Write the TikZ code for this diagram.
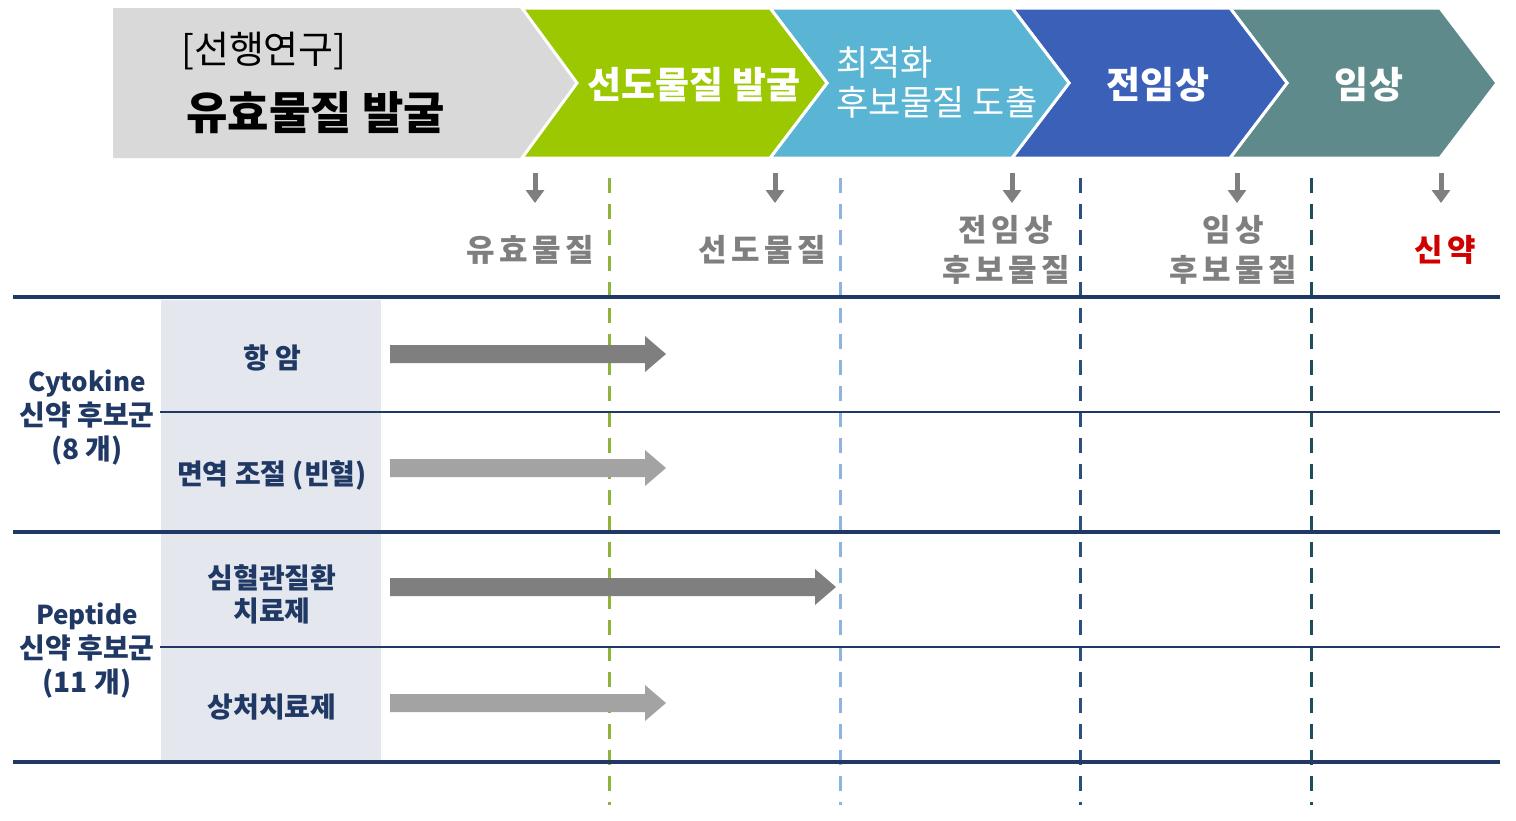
\documentclass[tikz,border=0pt]{standalone}
\usepackage{fontspec}
\usetikzlibrary{arrows.meta}
\newfontfamily\ko{Noto Sans CJK KR}
\newfontfamily\kosp[LetterSpace=14]{Noto Sans CJK KR}
\definecolor{bannergray}{HTML}{D9D9D9}
\definecolor{cgreen}{HTML}{9BC800}
\definecolor{clblue}{HTML}{5AB4D3}
\definecolor{cdblue}{HTML}{3A60B8}
\definecolor{cteal}{HTML}{5F8A8B}
\definecolor{navy}{HTML}{1F3864}
\definecolor{panel}{HTML}{E4E8EE}
\definecolor{labgray}{HTML}{7F7F7F}
\definecolor{darrow}{HTML}{7F7F7F}
\definecolor{larrow}{HTML}{A3A3A3}
\definecolor{dgreen}{HTML}{8DB33A}
\definecolor{dlblue}{HTML}{8DB3E2}
\definecolor{ddblue}{HTML}{2A5082}
\definecolor{dteal}{HTML}{1F4E5B}
\definecolor{newred}{HTML}{D00000}
\tikzset{
  chev/.style={draw=white,line width=3pt,line join=miter},
  bannertext/.style={text=white,font=\ko\bfseries\fontsize{37}{44}\selectfont,inner sep=0pt},
  stagelab/.style={text=labgray,font=\kosp\bfseries\fontsize{31}{40}\selectfont,align=center,inner sep=0pt},
  downarr/.style={draw=labgray,line width=5pt,-{Triangle[width=18pt,length=13pt]}},
  vdash/.style={line width=3pt,dash pattern=on 15pt off 11pt},
  thickrule/.style={draw=navy,line width=4.5pt},
  thinrule/.style={draw=navy,line width=1.8pt},
  grouplab/.style={text=navy,font=\ko\bfseries\fontsize{28}{34}\selectfont,align=center,inner sep=0pt},
  rowlab/.style={text=navy,font=\ko\bfseries\fontsize{28}{33}\selectfont,align=center,inner sep=0pt}
}
\newcommand{\blockarrow}[4]{% x0, xtip, ycenter, colour
  \fill[#4] (#1,#3-9) -- (#2-21,#3-9) -- (#2-21,#3-18) -- (#2,#3) -- (#2-21,#3+18) -- (#2-21,#3+9) -- (#1,#3+9) -- cycle;}
\begin{document}
\begin{tikzpicture}[x=1pt,y=-1pt]
\useasboundingbox[fill=white] (0,0) rectangle (1516,820);
% banner
\fill[bannergray] (113,8) -- (524,8) -- (579,83) -- (524,158) -- (113,158) -- cycle;
\fill[cteal,chev] (1230,8) -- (1440,8) -- (1497,83) -- (1440,158) -- (1230,158) -- (1287,83) -- cycle;
\fill[cdblue,chev] (1012,8) -- (1230,8) -- (1287,83) -- (1230,158) -- (1012,158) -- (1069,83) -- cycle;
\fill[clblue,chev] (770,8) -- (1012,8) -- (1069,83) -- (1012,158) -- (770,158) -- (827,83) -- cycle;
\fill[cgreen,chev] (522,8) -- (770,8) -- (827,83) -- (770,158) -- (522,158) -- (577,83) -- cycle;
\fill[white] (100,0) rectangle (1516,6.5);
\fill[white] (100,159.5) rectangle (1516,170);
\node[anchor=west,inner sep=0pt,font=\ko\fontsize{38}{44}\selectfont] (pre1) at (181,51) {[선행연구]};
\node[anchor=west,inner sep=0pt,font=\ko\bfseries\fontsize{45}{52}\selectfont] (pre2) at (186,113) {유효물질 발굴};
\node[bannertext] (b1) at (694,85) {선도물질 발굴};
\node[anchor=west,text=white,inner sep=0pt,align=left,font=\ko\fontsize{35}{40}\selectfont] (b2) at (836,82) {최적화\\후보물질 도출};
\node[bannertext] (b3) at (1158,85) {전임상};
\node[bannertext] (b4) at (1369,85) {임상};
% dashed verticals
\coordinate (g1) at (609,178); \coordinate (g2) at (609,805);
\coordinate (l1) at (840,178); \coordinate (l2) at (840,805);
\coordinate (d1) at (1080,178); \coordinate (d2) at (1080,805);
\coordinate (t1) at (1311,178); \coordinate (t2) at (1311,805);
% panel
\fill[panel] (161,300) rectangle (381,760);
\draw[vdash,dgreen] (g1) -- (g2);
\draw[vdash,dlblue] (l1) -- (l2);
\draw[vdash,ddblue] (d1) -- (d2);
\draw[vdash,dteal] (t1) -- (t2);
% down arrows
\foreach \n/\x in {a1/535,a2/775,a3/1012,a4/1237,a5/1441}{
  \coordinate (\n s) at (\x,173); \coordinate (\n e) at (\x,203);
  \draw[downarr] (\n s) -- (\n e);}
% stage labels
\node[stagelab] (s1) at (530,250) {유효물질};
\node[stagelab] (s2) at (762,250) {선도물질};
\node[stagelab] (s3) at (1006,250) {전임상\\후보물질};
\node[stagelab] (s4) at (1233,250) {임상\\후보물질};
\node[stagelab,text=newred] (s5) at (1445,250) {신약};
% rules
\coordinate (r1a) at (13,297); \coordinate (r1b) at (1500,297);
\coordinate (r2a) at (13,532); \coordinate (r2b) at (1500,532);
\coordinate (r3a) at (13,762); \coordinate (r3b) at (1500,762);
\coordinate (h1a) at (160,412); \coordinate (h1b) at (1500,412);
\coordinate (h2a) at (160,647); \coordinate (h2b) at (1500,647);
\draw[thickrule] (r1a) -- (r1b);
\draw[thickrule] (r2a) -- (r2b);
\draw[thickrule] (r3a) -- (r3b);
\draw[thinrule] (h1a) -- (h1b);
\draw[thinrule] (h2a) -- (h2b);
% group labels
\node[grouplab] (grp1) at (87,418) {{\fontsize{26}{34}\selectfont Cytokine}\\신약 후보군\\(8 개)};
\node[grouplab] (grp2) at (87,651) {{\fontsize{26}{34}\selectfont Peptide}\\신약 후보군\\(11 개)};
% row labels
\node[rowlab] (row1) at (272,358) {항 암};
\node[rowlab] (row2) at (272,475) {면역 조절 (빈혈)};
\node[rowlab] (row3) at (272,594) {심혈관질환\\치료제};
\node[rowlab] (row4) at (272,707) {상처치료제};
% block arrows
\blockarrow{390}{666}{354}{darrow}
\blockarrow{390}{666}{468}{larrow}
\blockarrow{390}{836}{587}{darrow}
\blockarrow{390}{666}{703}{larrow}
\end{tikzpicture}
\end{document}
